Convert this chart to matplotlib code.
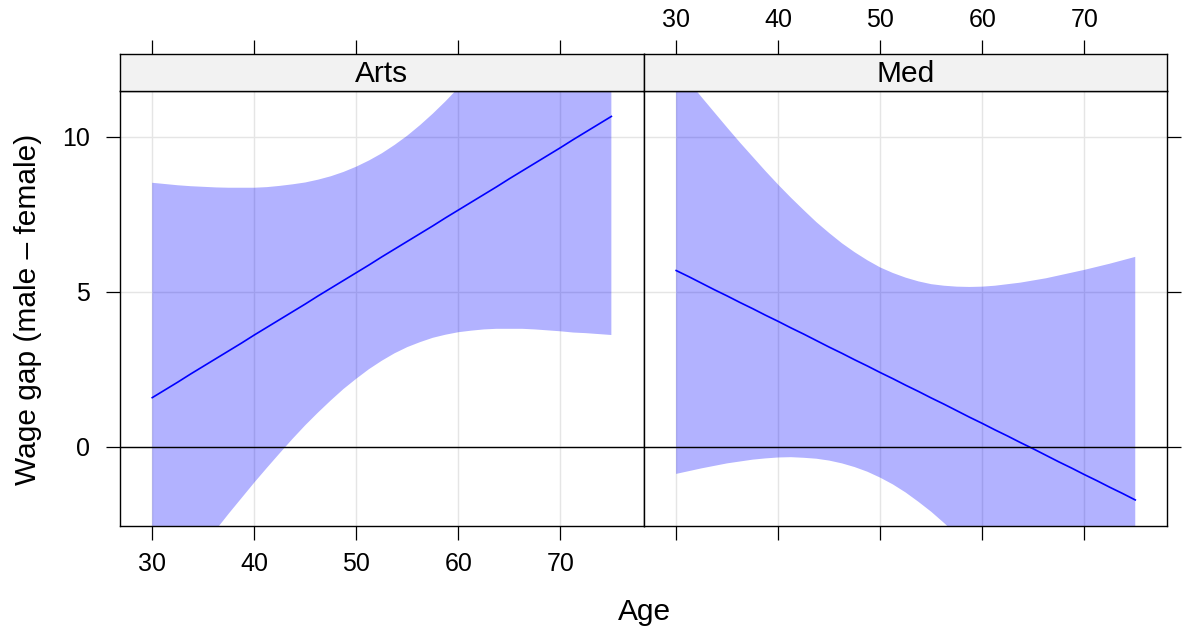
import matplotlib
matplotlib.use("Agg")
import matplotlib.pyplot as plt

plt.rcParams['font.family'] = ['Liberation Sans', 'DejaVu Sans']

# ages at which the fitted gap and its confidence band were read
age = [30, 31.25, 32.5, 33.75, 35, 36.25, 37.5, 38.75, 40, 41.25,
       42.5, 43.75, 45, 46.25, 47.5, 48.75, 50, 51.25, 52.5, 53.75,
       55, 56.25, 57.5, 58.75, 60, 61.25, 62.5, 63.75, 65, 66.25,
       67.5, 68.75, 70, 71.25, 72.5, 73.75, 75]

arts_fit = [1.58, 1.83, 2.08, 2.34, 2.59, 2.84, 3.09, 3.34, 3.60, 3.85,
            4.10, 4.35, 4.60, 4.86, 5.11, 5.36, 5.61, 5.86, 6.12, 6.37,
            6.62, 6.87, 7.12, 7.38, 7.63, 7.88, 8.13, 8.38, 8.64, 8.89,
            9.14, 9.39, 9.64, 9.90, 10.15, 10.40, 10.65]
arts_upper = [8.51, 8.47, 8.43, 8.40, 8.38, 8.36, 8.35, 8.35, 8.35, 8.37,
              8.41, 8.46, 8.52, 8.61, 8.72, 8.86, 9.03, 9.23, 9.46, 9.73,
              10.03, 10.37, 10.74, 11.14, 11.57, 12.02, 12.48, 12.97, 13.47, 13.98,
              14.50, 15.03, 15.57, 16.12, 16.64, 17.17, 17.70]
arts_lower = [-5.35, -4.80, -4.26, -3.73, -3.20, -2.68, -2.16, -1.66, -1.16, -0.68,
              -0.21, 0.25, 0.69, 1.10, 1.49, 1.86, 2.19, 2.50, 2.77, 3.01,
              3.21, 3.37, 3.51, 3.61, 3.69, 3.74, 3.78, 3.80, 3.80, 3.80,
              3.78, 3.75, 3.72, 3.68, 3.66, 3.63, 3.60]

med_fit = [5.68, 5.48, 5.27, 5.06, 4.86, 4.65, 4.45, 4.24, 4.04, 3.83,
           3.63, 3.42, 3.21, 3.01, 2.80, 2.60, 2.39, 2.19, 1.98, 1.78,
           1.57, 1.37, 1.16, 0.95, 0.75, 0.54, 0.34, 0.13, -0.07, -0.28,
           -0.49, -0.69, -0.90, -1.10, -1.31, -1.51, -1.72]
med_upper = [12.28, 11.77, 11.27, 10.78, 10.29, 9.81, 9.35, 8.89, 8.45, 8.03,
             7.63, 7.24, 6.89, 6.56, 6.27, 6.01, 5.78, 5.60, 5.45, 5.33,
             5.24, 5.19, 5.16, 5.15, 5.16, 5.19, 5.24, 5.29, 5.36, 5.43,
             5.52, 5.61, 5.70, 5.80, 5.90, 6.01, 6.12]
med_lower = [-0.88, -0.79, -0.70, -0.62, -0.54, -0.48, -0.42, -0.38, -0.35, -0.34,
             -0.36, -0.39, -0.45, -0.54, -0.66, -0.81, -1.00, -1.22, -1.48, -1.78,
             -2.10, -2.46, -2.84, -3.24, -3.67, -4.11, -4.56, -5.03, -5.51, -5.99,
             -6.49, -6.99, -7.49, -8.00, -8.52, -9.04, -9.56]

panels = ['Arts', 'Med']
x_ticks = [30, 40, 50, 60, 70]
y_ticks = [0, 5, 10]

W, H = 1182, 633
fig = plt.figure(figsize=(W / 100, H / 100), dpi=100)

left_px, right_px = 119.6, 1167.4
top_px, bottom_px, strip_top_px = 91, 526, 54.3
pw = (right_px - left_px) / 2
xlim = (26.8, 78.15)
ylim = (-2.56, 11.47)

data = {
    'Arts': (arts_fit, arts_upper, arts_lower),
    'Med': (med_fit, med_upper, med_lower),
}

tick_len = 10.4
tick_size = 18
label_size = 21.5
for i, name in enumerate(panels):
    x0 = (left_px + i * pw) / W
    ax = fig.add_axes([x0, 1 - bottom_px / H, pw / W, (bottom_px - top_px) / H])
    sx = fig.add_axes([x0, 1 - top_px / H, pw / W, (top_px - strip_top_px) / H])

    fit, upper, lower = data[name]
    ax.grid(True, color='#e5e5e5', lw=1.0, zorder=0)
    ax.fill_between(age, lower, upper, color='blue', alpha=0.3, lw=0, zorder=2)
    ax.plot(age, fit, color='blue', lw=1.2, zorder=3)
    ax.axhline(0, color='black', lw=1.0, zorder=4)

    ax.set_xlim(*xlim)
    ax.set_ylim(*ylim)
    ax.set_xticks(x_ticks)
    ax.set_yticks(y_ticks)
    ax.tick_params(direction='out', length=tick_len, width=0.9,
                   labelsize=tick_size, colors='black')
    ax.tick_params(axis='x', pad=8)
    ax.tick_params(axis='y', pad=11)
    if i == 0:
        ax.tick_params(axis='y', left=True, right=False, labelleft=True)
        ax.tick_params(axis='x', bottom=True, labelbottom=True)
    else:
        ax.tick_params(axis='y', left=False, right=True, labelleft=False)
        ax.tick_params(axis='x', bottom=True, labelbottom=False)
    for sp in ax.spines.values():
        sp.set_linewidth(1.0)

    sx.set_facecolor('#f2f2f2')
    sx.set_xlim(*xlim)
    sx.set_ylim(0, 1)
    sx.set_yticks([])
    sx.set_xticks(x_ticks)
    sx.tick_params(axis='x', bottom=False, labelbottom=False, top=True,
                   labeltop=(i == 1), direction='out', length=tick_len,
                   width=0.9, labelsize=tick_size, pad=6)
    for sp in sx.spines.values():
        sp.set_linewidth(1.0)
    sx.text(0.5, 0.45, name, transform=sx.transAxes, ha='center', va='center',
            fontsize=label_size)

fig.text(644 / W, 1 - 612 / H, 'Age', ha='center', va='center', fontsize=label_size)
fig.text(28 / W, 1 - 309 / H, 'Wage gap (male \u2013 female)', ha='center',
         va='center', rotation=90, fontsize=label_size)

fig.savefig('out.png', dpi=100)
